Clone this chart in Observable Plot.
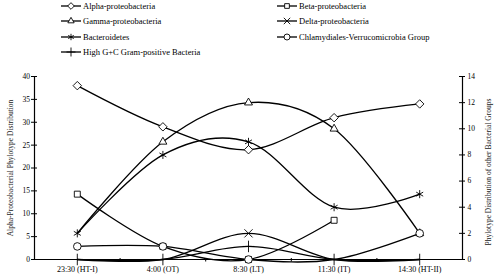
<!DOCTYPE html>
<html>
<head>
<meta charset="utf-8">
<script src="https://cdn.jsdelivr.net/npm/d3@7"></script>
<script src="https://cdn.jsdelivr.net/npm/@observablehq/plot@0.6"></script>
<style>
  html, body { margin: 0; padding: 0; background: #fff; }
  #wrap { width: 494px; height: 274px; position: relative; overflow: hidden; font-family: "Liberation Serif", "Times New Roman", serif; }
  #legend { position: relative; width: 494px; height: 62px; }
  .item { position: absolute; height: 12px; display: flex; align-items: center; font-size: 8.5px; color: #000; white-space: nowrap; }
  .item svg { margin-right: 2px; }
</style>
</head>
<body>
<div id="wrap">
  <div id="legend"></div>
  <div id="chart"></div>
</div>
<script>
// ---- data ----
const times = ["23:30 (HT-I)", "4:00 (OT)", "8:30 (LT)", "11:30 (IT)", "14:30 (HT-II)"];
const alpha = [38, 29, 24, 31, 34];              // left axis (%)
const beta = [5, 1, 0, 3, null];                 // right axis
const gamma = [2, 9, 12, 10, 2];
const delta = [0, 0, 2, 0, 0];
const bacteroidetes = [2, 8, 9, 4, 5];
const chlamydiales = [1, 1, 0, 0, 2];
const highGC = [0, 0, 1, 0, 0];
const leftTicks = [0, 5, 10, 15, 20, 25, 30, 35, 40];
const rightTicks = [0, 2, 4, 6, 8, 10, 12, 14];
const leftTitle = "Alpha-Proteobacterial Phylotype Distribution";
const rightTitle = "Phylotype Distribution of other Bacterial Groups";

const seriesNames = ["Alpha-proteobacteria", "Beta-proteobacteria", "Gamma-proteobacteria", "Delta-proteobacteria",
  "Bacteroidetes", "Chlamydiales-Verrucomicrobia Group", "High G+C Gram-positive Bacteria"];
const seriesValues = [alpha, beta, gamma, delta, bacteroidetes, chlamydiales, highGC];
const seriesSymbols = ["diamond2", "square2", "triangle2", "times", "asterisk", "circle", "plus"];
// markers not visible in the reference (hidden behind others / zero values)
const hiddenMarkers = [
  ["Gamma-proteobacteria", "23:30 (HT-I)"],
  ["Delta-proteobacteria", "23:30 (HT-I)"], ["Delta-proteobacteria", "4:00 (OT)"],
  ["Delta-proteobacteria", "11:30 (IT)"], ["Delta-proteobacteria", "14:30 (HT-II)"],
  ["Chlamydiales-Verrucomicrobia Group", "11:30 (IT)"]
];
const legendOrder = [
  ["Alpha-proteobacteria", "Beta-proteobacteria"],
  ["Gamma-proteobacteria", "Delta-proteobacteria"],
  ["Bacteroidetes", "Chlamydiales-Verrucomicrobia Group"],
  ["High G+C Gram-positive Bacteria"]
];

// ---- rows ----
const ratio = 40 / 14;
const rows = [];
seriesNames.forEach((s, k) => {
  seriesValues[k].forEach((v, i) => {
    if (v == null) return;
    rows.push({series: s, time: times[i], i, value: v, yv: k === 0 ? v : v * ratio,
      marker: !hiddenMarkers.some(([a, b]) => a === s && b === times[i])});
  });
});

// ---- legend ----
const symMap = {diamond2: d3.symbolDiamond2, square2: d3.symbolSquare2, triangle2: d3.symbolTriangle2,
  times: d3.symbolTimes, asterisk: d3.symbolAsterisk, circle: d3.symbolCircle, plus: d3.symbolPlus};
const legend = d3.select("#legend");
legendOrder.forEach((row, r) => {
  row.forEach((name, c) => {
    const k = seriesNames.indexOf(name);
    const item = legend.append("div").attr("class", "item")
      .style("left", (c === 0 ? 61 : 277) + "px")
      .style("top", (r * 15.4) + "px");
    const svg = item.append("svg").attr("width", 20).attr("height", 12);
    svg.append("line").attr("x1", 0).attr("x2", 20).attr("y1", 6).attr("y2", 6)
      .attr("stroke", "#000").attr("stroke-width", 1.3);
    svg.append("path").attr("transform", "translate(10,6)")
      .attr("d", d3.symbol(symMap[seriesSymbols[k]], Math.PI * 3 * 3)())
      .attr("fill", "#fff").attr("stroke", "#000").attr("stroke-width", 0.9);
    item.append("span").text(name);
  });
});

// ---- chart ----
const chart = Plot.plot({
  width: 494,
  height: 212,
  marginTop: 14,
  marginBottom: 15,
  marginLeft: 34,
  marginRight: 32,
  style: {fontFamily: "'Liberation Serif', 'Times New Roman', serif", fontSize: "8px", background: "#fff", overflow: "visible"},
  x: {type: "linear", domain: [-0.5, 4.5], axis: null},
  y: {type: "linear", domain: [0, 40], axis: null},
  symbol: {domain: seriesNames, range: seriesSymbols, legend: false},
  marks: [
    // axis lines
    Plot.ruleY([0], {x1: -0.5, x2: 4.5, stroke: "#000", strokeWidth: 1.2}),
    Plot.ruleX([-0.5, 4.5], {y1: 0, y2: 40, stroke: "#000", strokeWidth: 1.2}),
    // left ticks + labels
    Plot.ruleY(leftTicks, {y: d => d, x1: -0.5, x2: -0.5, insetLeft: -3, insetRight: -3, stroke: "#000"}),
    Plot.text(leftTicks, {x: -0.5, y: d => d, text: d => String(d), textAnchor: "end", dx: -4.5, fontSize: 7.5}),
    // right ticks + labels
    Plot.ruleY(rightTicks, {y: d => d * ratio, x1: 4.5, x2: 4.5, insetLeft: -3, insetRight: -3, stroke: "#000"}),
    Plot.text(rightTicks, {x: 4.5, y: d => d * ratio, text: d => String(d), textAnchor: "start", dx: 5, fontSize: 7.5}),
    // x ticks between categories + labels
    Plot.ruleX([0.5, 1.5, 2.5, 3.5], {y1: 0, y2: 0, insetBottom: -2.5, insetTop: -1, stroke: "#000"}),
    Plot.text(times, {x: (d, i) => i, y: 0, dy: 9.5, text: d => d, fontSize: 8}),
    // axis titles
    Plot.text([leftTitle], {frameAnchor: "left", textAnchor: "middle", rotate: -90, dx: -24, dy: 0, text: d => d, fontSize: 7.5, fill: "#222"}),
    Plot.text([rightTitle], {frameAnchor: "right", textAnchor: "middle", rotate: -90, dx: 26, dy: 4, text: d => d, fontSize: 7.5, fill: "#222"}),
    // series
    Plot.line(rows, {x: "i", y: "yv", z: "series", curve: "cardinal", stroke: "#000", strokeWidth: 1.3}),
    Plot.dot(rows.filter(d => d.marker), {x: "i", y: "yv", symbol: "series", r: 3.8, fill: "#fff", stroke: "#000", strokeWidth: 0.9})
  ]
});
document.getElementById("chart").appendChild(chart);
</script>
</body>
</html>
